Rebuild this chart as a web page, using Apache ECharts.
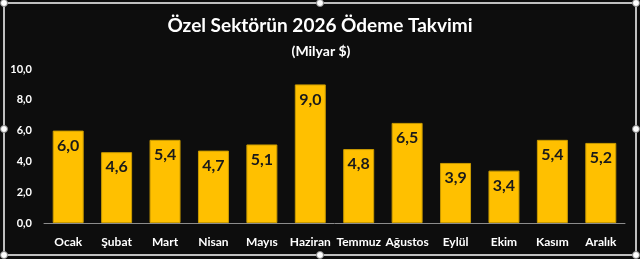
<!DOCTYPE html>
<html><head><meta charset="utf-8">
<script src="https://cdn.jsdelivr.net/npm/echarts@6/dist/echarts.min.js"></script>
<style>html,body{margin:0;padding:0;background:#0d0d0d}#c{width:640px;height:259px}</style>
</head><body><div id="c"></div>
<script>
const categories = ['Ocak','Şubat','Mart','Nisan','Mayıs','Haziran','Temmuz','Ağustos','Eylül','Ekim','Kasım','Aralık'];
const values = [6.0,4.6,5.4,4.7,5.1,9.0,4.8,6.5,3.9,3.4,5.4,5.2];
const yTicks = [0,2,4,6,8,10];
const FONT = 'Lato';
const fmt = v => v.toFixed(1).replace('.', ',');
const chart = echarts.init(document.getElementById('c'));
const handles = [[4,3],[320,3],[636,3],[4,129],[636,129],[4,255],[320,255],[636,255]].map(p=>({
  type:'circle', shape:{cx:p[0],cy:p[1],r:3.5}, style:{fill:'#fff',stroke:'#888',lineWidth:1}, z:100
}));
chart.setOption({
  backgroundColor:'#0d0d0d',
  animation:false,
  title:[
    {text:'Özel Sektörün 2026 Ödeme Takvimi', left:'center', top:11,
     textStyle:{color:'#fff',fontFamily:FONT,fontWeight:'bold',fontSize:19}},
    {text:'(Milyar $)', left:316, top:39, textAlign:'center',
     textStyle:{color:'#fff',fontFamily:FONT,fontWeight:'bold',fontSize:14}}
  ],
  grid:{left:44, right:15, top:69, bottom:36},
  xAxis:{type:'category', data:categories,
    axisLine:{lineStyle:{color:'#8c8c8c',width:1}}, axisTick:{show:false},
    axisLabel:{color:'#fff',fontFamily:FONT,fontWeight:'bold',fontSize:12,margin:13,interval:0}},
  yAxis:{type:'value', min:yTicks[0], max:yTicks[yTicks.length-1], interval:2,
    splitLine:{show:false}, axisLine:{show:false}, axisTick:{show:false},
    axisLabel:{color:'#fff',fontFamily:FONT,fontWeight:'bold',fontSize:11,margin:12,formatter:v=>fmt(v)}},
  graphic:[{type:'rect', shape:{x:4,y:3,width:632,height:252}, style:{fill:null,stroke:'#bfbfbf',lineWidth:2}, z:99}].concat(handles),
  series:[{type:'bar', data:values, barWidth:'64%',
    itemStyle:{color:'#FFC000',borderColor:'#c99a00',borderWidth:1},
    label:{show:true, position:'insideTop', distance:7, color:'#1a1a1a',fontFamily:FONT,fontWeight:'bold',fontSize:16, formatter:p=>fmt(p.value)}}]
});
</script></body></html>
